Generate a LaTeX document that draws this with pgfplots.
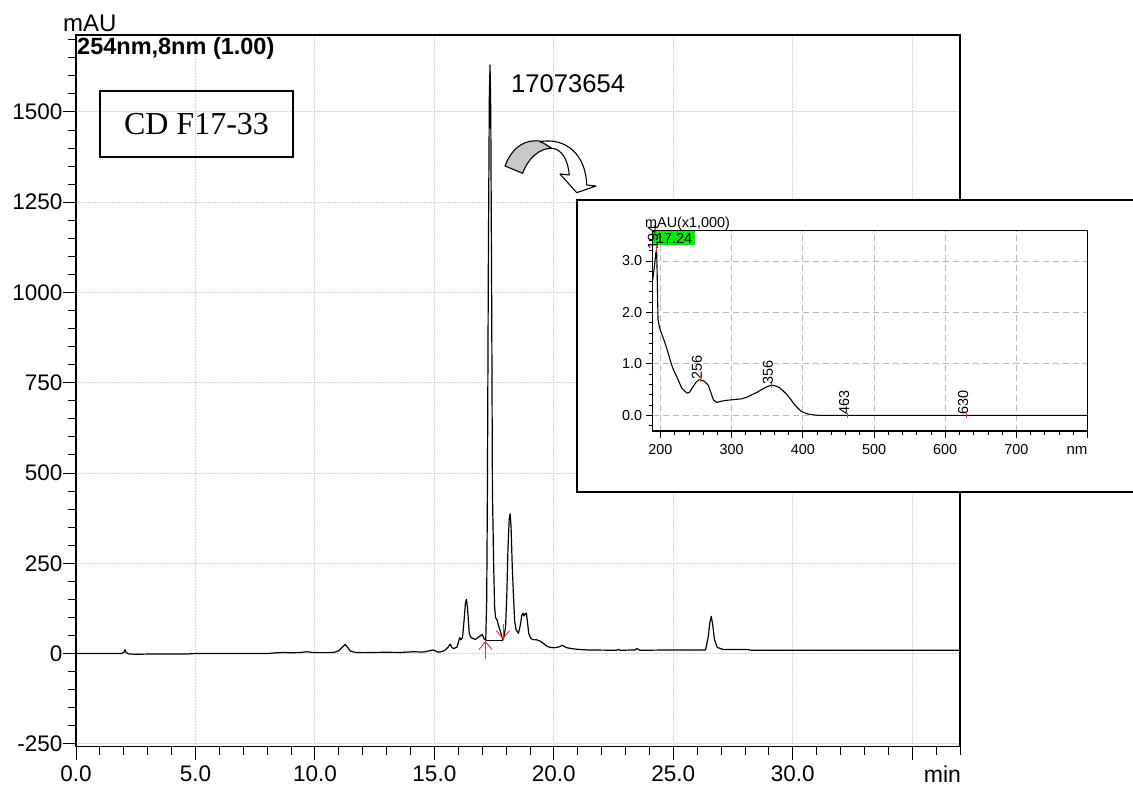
\documentclass[border=0pt]{standalone}
\usepackage{pgfplots}
\pgfplotsset{compat=1.18}
\usepackage{fontspec}
\setmainfont{Liberation Sans}
\newfontfamily\seriffont{Liberation Serif}
\usetikzlibrary{arrows.meta}

\definecolor{gridgray}{RGB}{212,212,212}
\definecolor{insetgrid}{RGB}{185,185,185}
\definecolor{peakred}{RGB}{255,40,40}
\definecolor{spotgreen}{RGB}{0,235,0}
\definecolor{arrowgray}{RGB}{200,200,200}

\newcommand\ticksize{\fontsize{22.5bp}{27bp}\selectfont}
\newcommand\smallsize{\fontsize{14.4bp}{17bp}\selectfont}

\begin{document}
\begin{tikzpicture}
\useasboundingbox (0,0) rectangle (1133bp,789bp);

% ---------------- chromatogram, 254 nm ----------------
\begin{axis}[
  at={(76bp,42.3bp)}, anchor=south west,
  scale only axis, width=884bp, height=711.7bp,
  xmin=0, xmax=37, ymin=-258, ymax=1713,
  tick pos=left, tick align=outside,
  xtick={0,5,...,35},
  xticklabels={0.0,5.0,10.0,15.0,20.0,25.0,30.0,{}},
  minor xtick={0,1,...,37},
  ytick={-250,0,...,1500},
  yticklabels={-250,0,250,500,750,1000,1250,1500},
  minor ytick={-250,-200,...,1700},
  major tick length=13bp, minor tick length=8bp,
  tick style={black, line width=0.9bp},
  grid=major,
  major grid style={gridgray, line width=0.9bp, dash pattern=on 2bp off 1bp},
  axis line style={line width=1.1bp},
  ticklabel style={font=\ticksize},
  xticklabel style={yshift=-3bp},
  yticklabel style={xshift=3bp},
]
\addplot[black, line width=1.2bp, line join=round] table {
0.00 0
1.90 0
2.00 3
2.05 11
2.10 3
2.20 -1
2.50 -2
3.50 -1
4.70 -1
5.00 0
8.00 0
8.40 2
8.70 3
9.00 2
9.40 3
9.66 5
9.90 3
10.20 2.5
10.50 2.5
10.80 3
11.00 8
11.15 18
11.27 25
11.38 16
11.48 7
11.70 3
12.00 2.5
12.90 3.5
13.60 3
14.13 5
14.55 4
14.75 7
14.95 10
15.15 4
15.30 5
15.46 10
15.58 18
15.66 26
15.74 16
15.82 14
15.95 18
16.02 35
16.06 44
16.12 38
16.18 45
16.24 90
16.30 140
16.34 150
16.38 130
16.42 95
16.46 55
16.54 44
16.71 39
16.86 46
17.00 53
17.09 40
17.15 37
17.19 150
17.22 450
17.26 1100
17.30 1540
17.33 1630
17.36 1500
17.40 950
17.43 450
17.48 250
17.52 130
17.56 100
17.63 92
17.68 78
17.76 62
17.82 48
17.87 38
17.93 52
17.98 75
18.03 160
18.08 290
18.13 370
18.17 387
18.21 350
18.26 240
18.31 160
18.36 90
18.42 66
18.52 56
18.60 80
18.66 106
18.71 112
18.75 104
18.80 110
18.85 112
18.90 85
18.95 55
19.02 44
19.10 39
19.28 38
19.44 34
19.60 26
19.72 20
19.85 17
20.00 16
20.20 18
20.37 23
20.45 19
20.55 16
20.80 13
21.10 11
21.40 10
22.60 9
22.70 11
22.80 9
23.40 10
23.48 14
23.60 9
25.00 10
26.35 10
26.46 46
26.53 85
26.59 103
26.65 80
26.72 40
26.84 17
27.10 11
28.10 11
28.30 9
37.00 9
};
% integration baseline and peak start / end markers
\addplot[black, line width=1.1bp] coordinates {(17.15,37) (17.87,37)};
\addplot[peakred, line width=0.9bp, -{Straight Barb[length=8bp,width=13bp]}]
  coordinates {(17.14,-14) (17.14,35)};
\addplot[peakred, line width=0.9bp, -{Straight Barb[length=8bp,width=13bp]}]
  coordinates {(17.87,82) (17.87,39)};
\end{axis}

\begin{scope}[x=1bp,y=1bp]
% axis captions and annotations
\node[anchor=base west, inner sep=0, font=\fontsize{24bp}{28bp}\selectfont] at (63,757) {mAU};
\node[anchor=base west, inner sep=0, font=\fontsize{23.5bp}{28bp}\selectfont\bfseries] at (77,734) {254nm,8nm (1.00)};
\node[anchor=base, inner sep=0, font=\fontsize{23bp}{27bp}\selectfont] at (942.5,7) {min};
\node[draw, line width=1.5bp, minimum width=193bp, minimum height=66bp, inner sep=0,
      font=\seriffont\fontsize{32bp}{38bp}\selectfont] at (196.5,665) {CD F17-33};
\node[anchor=base west, inner sep=0, font=\fontsize{25.6bp}{30bp}\selectfont] at (511,696) {17073654};

% curved pointer towards the spectrum
\draw[line width=1.1bp, fill=arrowgray, line join=round]
  (505,623) .. controls (512,642) and (526,651) .. (542,647.5)
  -- (551.7,640.7) .. controls (540,641) and (528,631) .. (522.7,615.7) -- cycle;
\draw[line width=1.1bp, fill=white, line join=round]
  (540,647.3) .. controls (566,652) and (586,634) .. (586.7,604)
  -- (596,603) -- (576.7,596.3) -- (560,615) -- (569.3,614)
  .. controls (568,629) and (562,640) .. (551.7,640.7)
  .. controls (548,643) and (544,646) .. cycle;

% frame of the spectrum panel
\draw[line width=1.4bp, fill=white] (577,297) rectangle (1145,589);
\end{scope}

% ---------------- UV spectrum at 17.24 min ----------------
\begin{axis}[
  at={(652.6bp,358bp)}, anchor=south west,
  scale only axis, width=435bp, height=200.3bp,
  xmin=189, xmax=800, ymin=-0.305, ymax=3.59,
  tick pos=left, tick align=outside,
  xtick={200,300,...,800},
  xticklabels={200,300,400,500,600,700,{}},
  minor xtick={200,220,...,800},
  ytick={0,1,2,3},
  yticklabels={0.0,1.0,2.0,3.0},
  minor ytick={-0.2,0,...,3.4},
  major tick length=7bp, minor tick length=4bp,
  tick style={black, line width=0.8bp},
  grid=major,
  major grid style={insetgrid, line width=0.9bp, dash pattern=on 6bp off 4bp},
  axis line style={line width=1.1bp},
  ticklabel style={font=\smallsize},
  xticklabel style={yshift=-3bp},
]
\addplot[black, line width=1.1bp, line join=round] table {
189 2.62
191.6 2.90
193.5 3.15
194.6 3.22
195.5 2.70
196.6 1.86
198.5 1.72
200.5 1.63
204 1.50
208 1.34
211 1.20
215 1.01
219 0.86
223 0.75
227 0.62
230 0.53
234 0.47
238 0.43
241 0.45
245 0.54
250 0.64
254 0.69
256 0.69
262 0.66
267 0.59
270.4 0.46
274.4 0.30
279.3 0.25
284 0.27
292 0.29
299 0.30
306 0.31
313.8 0.32
321 0.35
328.6 0.40
336 0.45
343.3 0.51
350 0.56
356 0.585
362 0.57
367 0.54
372 0.48
377.8 0.40
383 0.31
387.7 0.22
393 0.14
397.5 0.08
402 0.05
407 0.026
414 0.01
422 0.0
800 0.0
};
\addplot[peakred, only marks, mark=|, mark size=2.5bp, mark options={line width=1bp}]
  coordinates {(194.6,3.22) (256,0.69) (356,0.585) (463,0) (630,0)};
\node[rotate=90, anchor=west, inner sep=0.5bp, font=\smallsize] at ([xshift=-3.5bp]axis cs:256,0.69) {256};
\node[rotate=90, anchor=west, inner sep=0.5bp, font=\smallsize] at ([xshift=-3.5bp]axis cs:356,0.585) {356};
\node[rotate=90, anchor=west, inner sep=0.5bp, font=\smallsize] at ([xshift=-3.5bp]axis cs:463,0) {463};
\node[rotate=90, anchor=west, inner sep=0.5bp, font=\smallsize] at ([xshift=-3.5bp]axis cs:630,0) {630};
\end{axis}

\begin{scope}[x=1bp,y=1bp]
\node[anchor=base west, inner sep=0, font=\smallsize] at (645,561) {mAU(x1,000)};
\node[anchor=north west, fill=spotgreen, inner xsep=3bp, inner ysep=2bp, text height=10.3bp, text depth=0pt, font=\smallsize]
  at (653,558) {17.24};
\node[rotate=90, anchor=west, inner sep=0.5bp, font=\smallsize] at (653,539) {194};
\node[anchor=base, inner sep=0, font=\fontsize{15bp}{18bp}\selectfont] at (1077,334.5) {nm};
\end{scope}

\end{tikzpicture}
\end{document}
